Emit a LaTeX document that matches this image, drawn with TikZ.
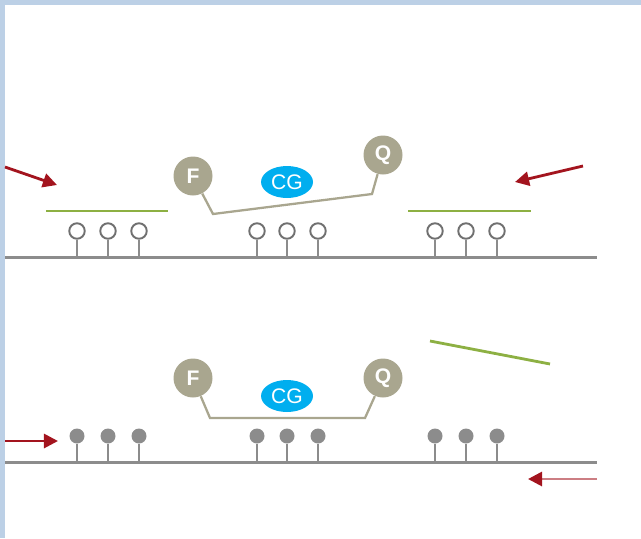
\documentclass[tikz,border=0pt]{standalone}
\usepackage{fontspec}
\setsansfont{Liberation Sans}
\usetikzlibrary{shapes.geometric,arrows.meta}
\definecolor{frameblue}{HTML}{BCD0E6}
\definecolor{stone}{HTML}{A9A68F}
\definecolor{cgblue}{HTML}{00AEEF}
\definecolor{leaf}{HTML}{8DB043}
\definecolor{rust}{HTML}{A3141E}
\definecolor{rail}{HTML}{8C8C8C}

\begin{document}
\begin{tikzpicture}[x=0.02cm,y=-0.02cm,
  ball/.style={circle,fill=stone,text=white,minimum size=0.78cm,inner sep=0pt,font=\sffamily\bfseries\large},
  cg/.style={ellipse,fill=cgblue,text=white,minimum width=1.04cm,minimum height=0.64cm,inner sep=0pt,font=\sffamily\large},
  linker/.style={draw=stone,line width=1.3pt},
  railline/.style={draw=rail,line width=1.7pt},
  openpin/.style={circle,draw=rail!80!black,line width=1.1pt,fill=white,minimum size=0.31cm,inner sep=0pt},
  fullpin/.style={circle,fill=rail,minimum size=0.3cm,inner sep=0pt},
  stem/.style={draw=rail,line width=1.1pt},
  primer/.style={draw=leaf,line width=1.6pt},
  push/.style={draw=rust,line width=1.6pt,-{Triangle[length=8pt,width=8pt]}}]

\useasboundingbox (0,0) rectangle (641,538);
\fill[frameblue] (0,0) rectangle (641,5);
\fill[frameblue] (0,0) rectangle (5,538);

%% upper panel
\coordinate (R1a) at (5,257);
\coordinate (R1b) at (597,257);
\draw[railline] (R1a) -- (R1b);
\foreach \x [count=\i] in {77,108,139,257,287,318,435,466,497}{
  \node[openpin] (u\i) at (\x,231) {};
  \draw[stem] (u\i.south) -- (u\i.south |- R1a);
}
\coordinate (g1a) at (46,211);  \coordinate (g1b) at (168,211);
\coordinate (g2a) at (408,211); \coordinate (g2b) at (531,211);
\draw[primer] (g1a) -- (g1b);
\draw[primer] (g2a) -- (g2b);

\node[ball] (F1) at (193,176) {F};
\node[ball] (Q1) at (383,155) {Q};
\node[cg]   (CG1) at (287,182) {CG};
\coordinate (k1) at (213,214);
\coordinate (k2) at (372,194);
\draw[linker] (F1) -- (k1) -- (k2) -- (Q1);

\coordinate (a1) at (5,167);   \coordinate (a2) at (57,185);
\coordinate (a3) at (583,166); \coordinate (a4) at (515,182);
\draw[push] (a1) -- (a2);
\draw[push] (a3) -- (a4);

%% lower panel
\coordinate (R2a) at (5,462);
\coordinate (R2b) at (597,462);
\draw[railline] (R2a) -- (R2b);
\foreach \x [count=\i] in {77,108,139,257,287,318,435,466,497}{
  \node[fullpin] (d\i) at (\x,436) {};
  \draw[stem] (d\i.south) -- (d\i.south |- R2a);
}
\coordinate (g3a) at (430,341); \coordinate (g3b) at (550,364);
\draw[primer] (g3a) -- (g3b);

\node[ball] (F2) at (193,378) {F};
\node[ball] (Q2) at (383,378) {Q};
\node[cg]   (CG2) at (287,396) {CG};
\coordinate (k3) at (210,418);
\coordinate (k4) at (365,418);
\draw[linker] (F2) -- (k3) -- (k4) -- (Q2);

\coordinate (a5) at (5,441);   \coordinate (a6) at (58,441);
\coordinate (a7) at (597,479); \coordinate (a8) at (528,479);
\draw[push] (a5) -- (a6);
\draw[push,draw=rust!55,-{Triangle[length=8pt,width=8pt,color=rust]}] (a7) -- (a8);
\end{tikzpicture}
\end{document}
